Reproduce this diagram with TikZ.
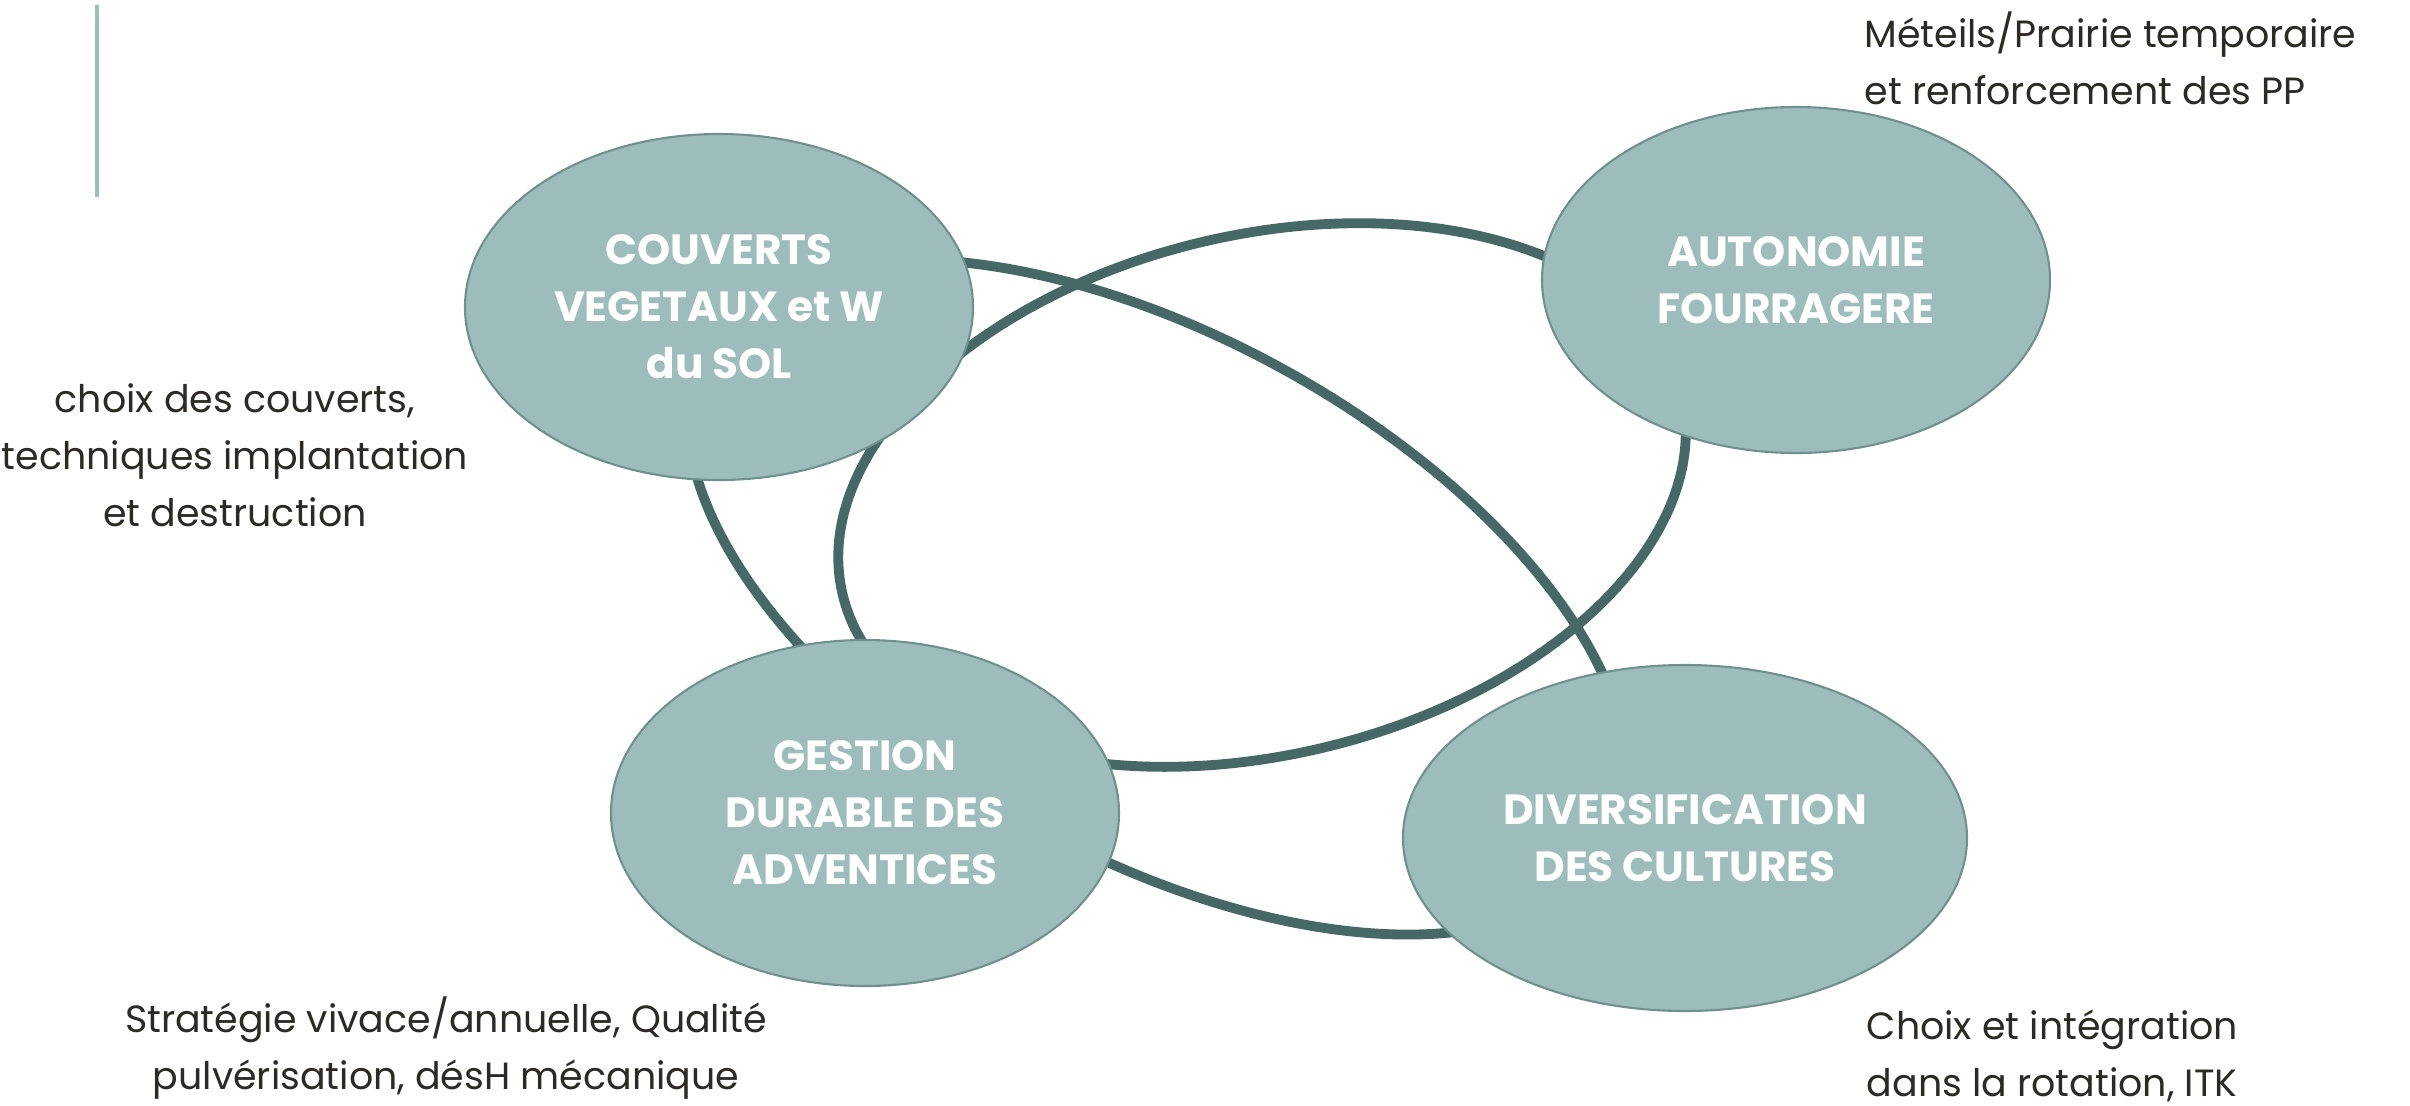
\documentclass[tikz,border=0pt]{standalone}
\usepackage{fontspec}
\setmainfont{Poppins}
\usetikzlibrary{shapes.geometric,backgrounds}

\definecolor{sagefill}{HTML}{9CBDBC}
\definecolor{sageedge}{HTML}{6F908F}
\definecolor{loopgreen}{HTML}{466968}
\definecolor{inkbrown}{HTML}{2B2A23}

\begin{document}
\begin{tikzpicture}[
  theme/.style={ellipse, draw=sageedge, line width=0.6pt, fill=sagefill, text=white,
    font=\fontsize{12}{16.2}\selectfont\bfseries, align=center, inner sep=0pt,
    minimum width=5.08cm, minimum height=3.46cm},
  note/.style={text=inkbrown, font=\fontsize{10.8}{16.2}\selectfont, inner sep=0pt},
  loopline/.style={draw=loopgreen, line width=2.8pt}
]
\useasboundingbox (0,0) rectangle (24.1,-11.05);

% left rule
\draw[sagefill, line width=1.2pt] (0.97,-0.05) -- (0.97,-1.97);

% the four themes
\node[theme] (couverts) at (7.19,-3.07) {COUVERTS\\VEGETAUX et W\\du SOL};
\node[theme] (autonomie) at (17.96,-2.80) {AUTONOMIE\\FOURRAGERE};
\node[theme] (gestion) at (8.65,-8.13) {GESTION\\DURABLE DES\\ADVENTICES};
\node[theme, minimum width=5.64cm] (diversif) at (16.85,-8.38) {DIVERSIFICATION\\DES CULTURES};

% loops behind the themes
\begin{scope}[on background layer]
\draw[loopline, rotate around={13.3:(12.62,-4.95)}] (12.62,-4.95) ellipse [x radius=4.31, y radius=2.60];
\draw[loopline, rotate around={-28.8:(11.58,-5.97)}] (11.58,-5.97) ellipse [x radius=5.17, y radius=2.60];
\end{scope}

% notes
\node[note, align=left, anchor=west] (fourrage) at (18.64,-0.585) {Méteils/Prairie temporaire\\et renforcement des PP};
\node[note, align=center] (couvnote) at (2.35,-4.55) {choix des couverts,\\techniques implantation\\et destruction};
\node[note, align=center] (advnote) at (4.46,-10.485) {Stratégie vivace/annuelle, Qualité\\pulvérisation, désH mécanique};
\node[note, align=left, anchor=west] (rotnote) at (18.66,-10.555) {Choix et intégration\\dans la rotation, ITK};
\end{tikzpicture}
\end{document}
